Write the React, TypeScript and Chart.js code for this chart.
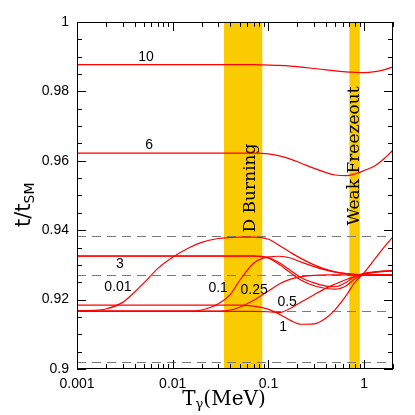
import React, { useEffect, useRef } from 'react';
import { Chart, registerables } from 'chart.js';

Chart.register(...registerables);

// ---- data ----
const temperatures = [0.001, 0.0015, 0.002, 0.003, 0.004, 0.005, 0.007, 0.01, 0.015, 0.02, 0.03, 0.04, 0.05, 0.07, 0.1, 0.13, 0.17, 0.22, 0.3, 0.4, 0.5, 0.65, 0.8, 1, 1.3, 1.6, 2];

const ratio10 = [0.9877, 0.9877, 0.9877, 0.9877, 0.9877, 0.9877, 0.9877, 0.9877, 0.9877, 0.9877, 0.9877, 0.9877, 0.9877, 0.9877, 0.9876, 0.9875, 0.9873, 0.9870, 0.9866, 0.9862, 0.9859, 0.9856, 0.9855, 0.9854, 0.9857, 0.9862, 0.9871];
const ratio6 = [0.9622, 0.9622, 0.9622, 0.9622, 0.9622, 0.9622, 0.9622, 0.9622, 0.9622, 0.9622, 0.9622, 0.9622, 0.9622, 0.9622, 0.9620, 0.9614, 0.9605, 0.9593, 0.9578, 0.9566, 0.9559, 0.9557, 0.9562, 0.9572, 0.9586, 0.9605, 0.9631];
const ratio3 = [0.9326, 0.9326, 0.9326, 0.9326, 0.9326, 0.9326, 0.9326, 0.9326, 0.9326, 0.9326, 0.9326, 0.9326, 0.9326, 0.9326, 0.9321, 0.9306, 0.9284, 0.9263, 0.9248, 0.9239, 0.9237, 0.9250, 0.9267, 0.9276, 0.9280, 0.9282, 0.9283];
const ratio3b = [0.9325, 0.9325, 0.9325, 0.9325, 0.9325, 0.9325, 0.9325, 0.9325, 0.9325, 0.9325, 0.9325, 0.9325, 0.9325, 0.9325, 0.9319, 0.9301, 0.9277, 0.9256, 0.9240, 0.9232, 0.9230, 0.9240, 0.9260, 0.9273, 0.9279, 0.9281, 0.9282];
const ratio001 = [0.9168, 0.9169, 0.9173, 0.9192, 0.9222, 0.9248, 0.9290, 0.9322, 0.9350, 0.9365, 0.9376, 0.9379, 0.9380, 0.9380, 0.9374, 0.9356, 0.9336, 0.9318, 0.9300, 0.9287, 0.9280, 0.9275, 0.9273, 0.9271, 0.9270, 0.9270, 0.9269];
const ratio01 = [0.9167, 0.9167, 0.9167, 0.9167, 0.9167, 0.9167, 0.9167, 0.9167, 0.9167, 0.9170, 0.9188, 0.9215, 0.9255, 0.9305, 0.9323, 0.9325, 0.9320, 0.9308, 0.9295, 0.9285, 0.9279, 0.9275, 0.9273, 0.9272, 0.9271, 0.9270, 0.9270];
const ratio025 = [0.9167, 0.9167, 0.9167, 0.9167, 0.9167, 0.9167, 0.9167, 0.9167, 0.9167, 0.9167, 0.9167, 0.9170, 0.9178, 0.9198, 0.9225, 0.9245, 0.9259, 0.9266, 0.9270, 0.9271, 0.9271, 0.9271, 0.9271, 0.9271, 0.9272, 0.9272, 0.9272];
const ratio05 = [0.9166, 0.9166, 0.9166, 0.9166, 0.9166, 0.9166, 0.9166, 0.9166, 0.9166, 0.9166, 0.9166, 0.9166, 0.9166, 0.9166, 0.9165, 0.9163, 0.9175, 0.9193, 0.9214, 0.9233, 0.9245, 0.9258, 0.9267, 0.9274, 0.9279, 0.9282, 0.9284];
const ratio1 = [0.9184, 0.9184, 0.9184, 0.9184, 0.9184, 0.9184, 0.9184, 0.9184, 0.9184, 0.9184, 0.9184, 0.9184, 0.9184, 0.9181, 0.9172, 0.9158, 0.9140, 0.9129, 0.9130, 0.9147, 0.9172, 0.9212, 0.9250, 0.9278, 0.9318, 0.9350, 0.9381];

const allSeries = [ratio10, ratio6, ratio3, ratio3b, ratio001, ratio01, ratio025, ratio05, ratio1];

const referenceLevels = [0.9384, 0.9271, 0.9166, 0.9019];
const dBurningRange = [0.0343, 0.0862];
const weakFreezeoutRange = [0.70, 0.90];

const xTickValues = [0.001, 0.01, 0.1, 1];
const xTickLabels = ['0.001', '0.01', '0.1', '1'];
const yTickValues = [0.9, 0.92, 0.94, 0.96, 0.98, 1];
const yTickLabels = ['0.9', '0.92', '0.94', '0.96', '0.98', '1'];

const curveLabels = ['10', '6', '3', '0.01', '0.1', '0.25', '0.5', '1'];
const curveLabelT = [0.00526, 0.00566, 0.00281, 0.00268, 0.0298, 0.0708, 0.1567, 0.1423];
const curveLabelV = [0.9899, 0.96455, 0.93026, 0.92363, 0.92334, 0.92277, 0.91931, 0.9121];

const bandTexts = ['D Burning', 'Weak Freezeout'];
const bandTextT = [0.0715, 0.883];
const bandTextV = [0.95216, 0.96138];

// ---- styles ----
const BAND_COLOR = '#f9cb00';
const SANS = '"Liberation Sans", Arial, sans-serif';
const SERIF = '"DejaVu Serif", serif';

const decorPlugin = {
  id: 'decor',
  beforeDatasetsDraw(chart: any) {
    const { ctx, chartArea: a, scales } = chart;
    const x = scales.x;
    const y = scales.y;
    ctx.save();
    ctx.fillStyle = BAND_COLOR;
    for (const [lo, hi] of [dBurningRange, weakFreezeoutRange]) {
      const x0 = x.getPixelForValue(lo);
      const x1 = x.getPixelForValue(hi);
      ctx.fillRect(x0, a.top, x1 - x0, a.bottom - a.top);
    }
    ctx.strokeStyle = '#7a7a7a';
    ctx.lineWidth = 1;
    ctx.setLineDash([9, 6]);
    for (const v of referenceLevels) {
      const py = Math.round(y.getPixelForValue(v)) + 0.5;
      ctx.beginPath();
      ctx.moveTo(a.left, py);
      ctx.lineTo(a.right, py);
      ctx.stroke();
    }
    ctx.setLineDash([]);
    ctx.fillStyle = '#000';
    ctx.font = '17px ' + SERIF;
    ctx.textAlign = 'center';
    ctx.textBaseline = 'alphabetic';
    bandTexts.forEach((t, i) => {
      ctx.save();
      ctx.translate(x.getPixelForValue(bandTextT[i]), y.getPixelForValue(bandTextV[i]));
      ctx.rotate(-Math.PI / 2);
      ctx.fillText(t, 0, 0);
      ctx.restore();
    });
    ctx.restore();
  },
  afterDatasetsDraw(chart: any) {
    const { ctx, chartArea: a, scales } = chart;
    const x = scales.x;
    const y = scales.y;
    ctx.save();
    ctx.fillStyle = '#000';
    const L = Math.round(a.left), R = Math.round(a.right) - 1;
    const T = Math.round(a.top), B = Math.round(a.bottom) - 1;
    // frame
    ctx.fillRect(L, T, R - L + 1, 1);
    ctx.fillRect(L, B, R - L + 1, 1);
    ctx.fillRect(L, T, 1, B - T + 1);
    ctx.fillRect(R, T, 1, B - T + 1);
    // y ticks (inside, both sides)
    for (let k = 0; k <= 20; k++) {
      const v = 0.9 + k * 0.005;
      const py = Math.round(y.getPixelForValue(v));
      const len = k % 4 === 0 ? 9 : 5;
      ctx.fillRect(L, py, len, 1);
      ctx.fillRect(R - len + 1, py, len, 1);
    }
    // x ticks (inside, both sides)
    for (let d = -3; d <= 0; d++) {
      for (let m = 1; m <= 9; m++) {
        const v = m * Math.pow(10, d);
        if (v > 2.0001) continue;
        const px = Math.round(x.getPixelForValue(v));
        const len = m === 1 ? 9 : 5;
        ctx.fillRect(px, B - len + 1, 1, len);
        ctx.fillRect(px, T, 1, len);
      }
    }
    ctx.font = '14px ' + SANS;
    ctx.textAlign = 'center';
    ctx.textBaseline = 'middle';
    curveLabels.forEach((t, i) => {
      ctx.fillText(t, x.getPixelForValue(curveLabelT[i]), y.getPixelForValue(curveLabelV[i]));
    });
    ctx.restore();
  },
  afterDraw(chart: any) {
    const { ctx } = chart;
    ctx.save();
    ctx.fillStyle = '#000';
    ctx.textBaseline = 'alphabetic';
    ctx.textAlign = 'left';
    const mainFont = '20px ' + SERIF;
    const subFont = '13px ' + SERIF;
    ctx.font = mainFont;
    const wT = ctx.measureText('T').width;
    const wM = ctx.measureText('(MeV)').width;
    ctx.font = subFont;
    const wG = ctx.measureText('γ').width;
    const total = wT + wG + wM;
    const x0 = 224 - total / 2;
    const base = 405;
    ctx.font = mainFont;
    ctx.fillText('T', x0, base);
    ctx.font = subFont;
    ctx.fillText('γ', x0 + wT, base + 3);
    ctx.font = mainFont;
    ctx.fillText('(MeV)', x0 + wT + wG, base);
    ctx.translate(30, 227);
    ctx.rotate(-Math.PI / 2);
    ctx.font = '21px "DejaVu Sans", sans-serif';
    ctx.fillText('t/t', 0, 0);
    const w = ctx.measureText('t/t').width;
    ctx.font = '14px "DejaVu Sans", sans-serif';
    ctx.fillText('SM', w, 4);
    ctx.restore();
  },
};

export default function App() {
  const ref = useRef<HTMLCanvasElement>(null);
  useEffect(() => {
    const canvas = ref.current;
    if (!canvas) return;
    const chart = new Chart(canvas, {
      type: 'line',
      data: {
        datasets: allSeries.map((vals) => ({
          data: temperatures.map((t, i) => ({ x: t, y: vals[i] })),
          borderColor: '#ff0000',
          borderWidth: 1.2,
          pointRadius: 0,
          fill: false,
          cubicInterpolationMode: 'monotone' as const,
        })),
      },
      options: {
        responsive: false,
        animation: false,
        devicePixelRatio: 1,
        layout: { padding: { top: 22, right: 22, left: 0, bottom: 0 } },
        plugins: { legend: { display: false }, tooltip: { enabled: false } },
        scales: {
          x: {
            type: 'logarithmic',
            min: 0.001,
            max: 2,
            grid: { display: false, drawTicks: false },
            border: { display: false },
            afterBuildTicks: (s: any) => { s.ticks = xTickValues.map((v) => ({ value: v })); },
            afterFit: (s: any) => { s.height = 46; },
            ticks: {
              callback: (_v: any, i: number) => xTickLabels[i],
              font: { family: SANS, size: 14 },
              color: '#000',
              padding: 7,
              maxRotation: 0,
              autoSkip: false,
            },
          },
          y: {
            type: 'linear',
            min: 0.9,
            max: 1,
            grid: { display: false, drawTicks: false },
            border: { display: false },
            afterBuildTicks: (s: any) => { s.ticks = yTickValues.map((v) => ({ value: v })); },
            afterFit: (s: any) => { s.width = 77; },
            ticks: {
              callback: (_v: any, i: number) => yTickLabels[i],
              font: { family: SANS, size: 14 },
              color: '#000',
              padding: 8,
              autoSkip: false,
            },
          },
        },
      } as any,
      plugins: [decorPlugin],
    });
    return () => chart.destroy();
  }, []);
  return (
    <canvas
      ref={ref}
      width={415}
      height={415}
      style={{ position: 'absolute', left: 0, top: 0, width: 415, height: 415 }}
    />
  );
}
